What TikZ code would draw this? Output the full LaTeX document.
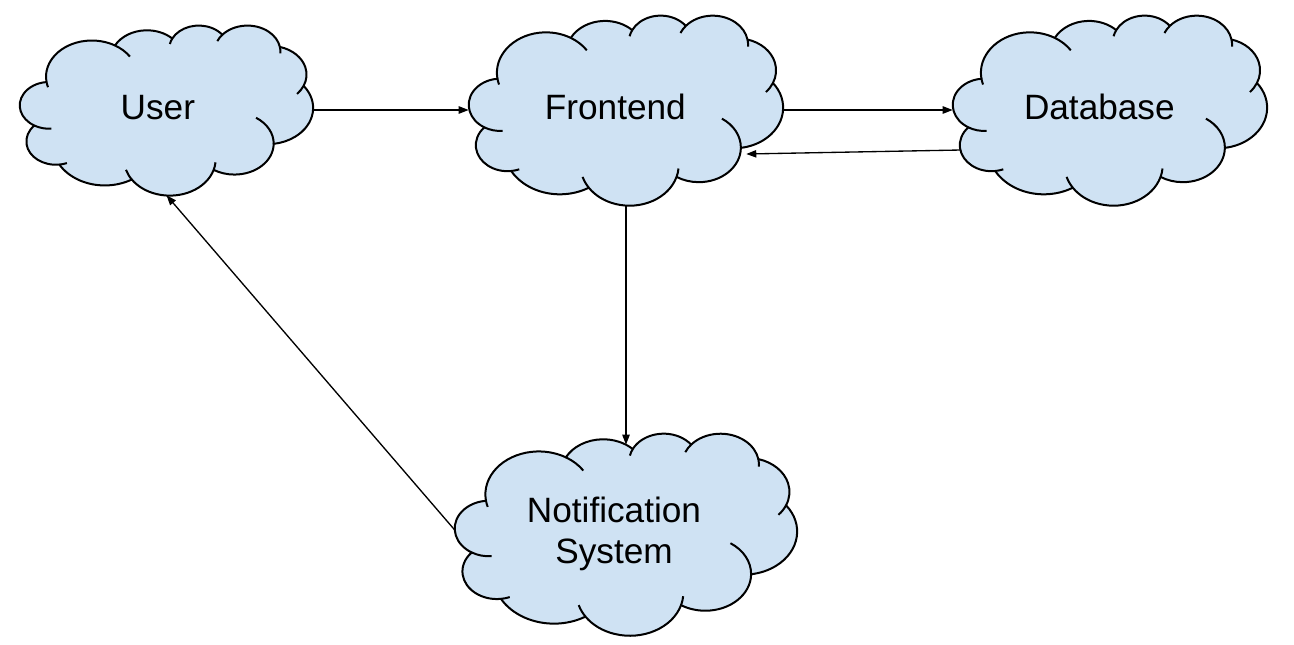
\documentclass[tikz,border=0pt]{standalone}
\usepackage{fontspec}
\setmainfont{Liberation Sans}
\usetikzlibrary{arrows.meta}
\definecolor{cloudblue}{RGB}{207,226,243}

\tikzset{
  % one puff of the cloud, visual angles from #3 to #4
  puff/.style n args={4}{x radius=#1, y radius=#2,
    start angle={atan2(#1*sin(#3),#2*cos(#3))},
    delta angle={sign(#4-#3)*mod(sign(#4-#3)*(atan2(#1*sin(#4),#2*cos(#4))-atan2(#1*sin(#3),#2*cos(#3)))+720,360)}},
  cloudline/.style={line width=1.5pt, line join=round},
  cloudframe/.style 2 args={minimum width=#1, minimum height=#2, inner sep=0pt},
  cloudtext/.style={font=\fontsize{26.4}{30.4}\selectfont, align=center, inner sep=0pt},
  link/.style={line width=1pt, -{Triangle[length=7.5pt,width=5.5pt]}},
  pics/cloudpuff/.style 2 args={code={
    \begin{scope}[xscale=#1/432, yscale=-#2/432]
    %Shape: Cloud outline
    \draw[cloudline, fill=cloudblue] (39,143.7) coordinate (j0)
      arc[puff={67.53}{91.90}{-190.4875}{-66.707}] coordinate (j1)
      arc[puff={53.33}{72.67}{-144.1024}{-54.1572}] coordinate (j2)
      arc[puff={43.65}{59.45}{-145.8079}{-46.0849}] coordinate (j3)
      arc[puff={48.57}{65.95}{-130.9861}{-13.7444}] coordinate (j4)
      arc[puff={53.33}{72.73}{-78.7089}{30.318}] coordinate (j5)
      arc[puff={67.75}{92.20}{-46.2673}{84.0017}] coordinate (j6)
      arc[puff={57.85}{78.67}{0.625}{114.6583}] coordinate (j7)
      arc[puff={67.52}{92.15}{22.4516}{137.6242}] coordinate (j8)
      arc[puff={77.20}{105.43}{66.2426}{141.9536}] coordinate (j9)
      arc[puff={43.60}{59.18}{-274.9421}{-128.2065}] coordinate (j10)
      arc[puff={43.45}{59.45}{-246.8285}{-94.3096}] -- cycle;
    %Curve Lines: inner strokes
    \draw[cloudline]
      (j10) arc[puff={43.45}{59.45}{-246.8285}{-273.2}]
      (j9) arc[puff={43.60}{59.18}{-274.9421}{-286.4}]
      (j8) arc[puff={67.52}{92.15}{137.6242}{157.6}]
      (j7) arc[puff={67.52}{92.15}{22.4516}{6.45}]
      (j6) arc[puff={57.85}{78.67}{0.625}{-64.2}]
      (j5) arc[puff={53.33}{72.73}{30.318}{51.3}]
      (j4) arc[puff={48.57}{65.95}{-13.7444}{5.3}]
      (j3) arc[puff={48.57}{65.95}{-130.9861}{-149.2}]
      (j2) arc[puff={43.65}{59.45}{-145.8079}{-163.5}]
      (j1) arc[puff={67.53}{91.90}{-66.707}{-42.3}]
      (j0) arc[puff={67.53}{91.90}{-190.4875}{-202.5}];
    \end{scope}}}
}

\begin{document}
\begin{tikzpicture}[x=0.75pt,y=0.75pt,yscale=-1,xscale=1]
\useasboundingbox (0,0) rectangle (1294,644);

%Shape: Cloud [User]
\pic at (20,25) {cloudpuff={293}{170}};
%Shape: Cloud [Frontend]
\pic at (469,15) {cloudpuff={314}{190}};
%Shape: Cloud [Database]
\pic at (953,15) {cloudpuff={314}{190}};
%Shape: Cloud [Notification System]
\pic at (455,433) {cloudpuff={342}{202}};

% Text Node
\node[cloudframe={219.75pt}{127.5pt}, label={[cloudtext, name=user-text, xshift=-6.5pt, yshift=2pt]center:User}] (user) at (166.5,110) {};
% Text Node
\node[cloudframe={235.5pt}{142.5pt}, label={[cloudtext, name=frontend-text, xshift=-8pt, yshift=2pt]center:Frontend}] (frontend) at (626,110) {};
% Text Node
\node[cloudframe={235.5pt}{142.5pt}, label={[cloudtext, name=database-text, xshift=-8pt, yshift=2pt]center:Database}] (database) at (1110,110) {};
% Text Node
\node[cloudframe={256.5pt}{151.5pt}, label={[cloudtext, name=notify-text, xshift=-9pt, yshift=0pt]center:Notification\\System}] (notify) at (626,534) {};

%Straight Lines
\draw[link] (user.east) -- (user.east -| frontend.west);
%Straight Lines
\draw[link] (frontend.east) -- (frontend.east -| database.west);
%Straight Lines
\draw[link] ([shift={(8,40)}]database.west) -- ([shift={(-37,44)}]frontend.east);
%Straight Lines
\draw[link] (frontend.south) -- ([shift={(0,12)}]notify.north);
%Straight Lines
\draw[link] ([shift={(0,-4)}]notify.west) -- (user.south);

\end{tikzpicture}
\end{document}
